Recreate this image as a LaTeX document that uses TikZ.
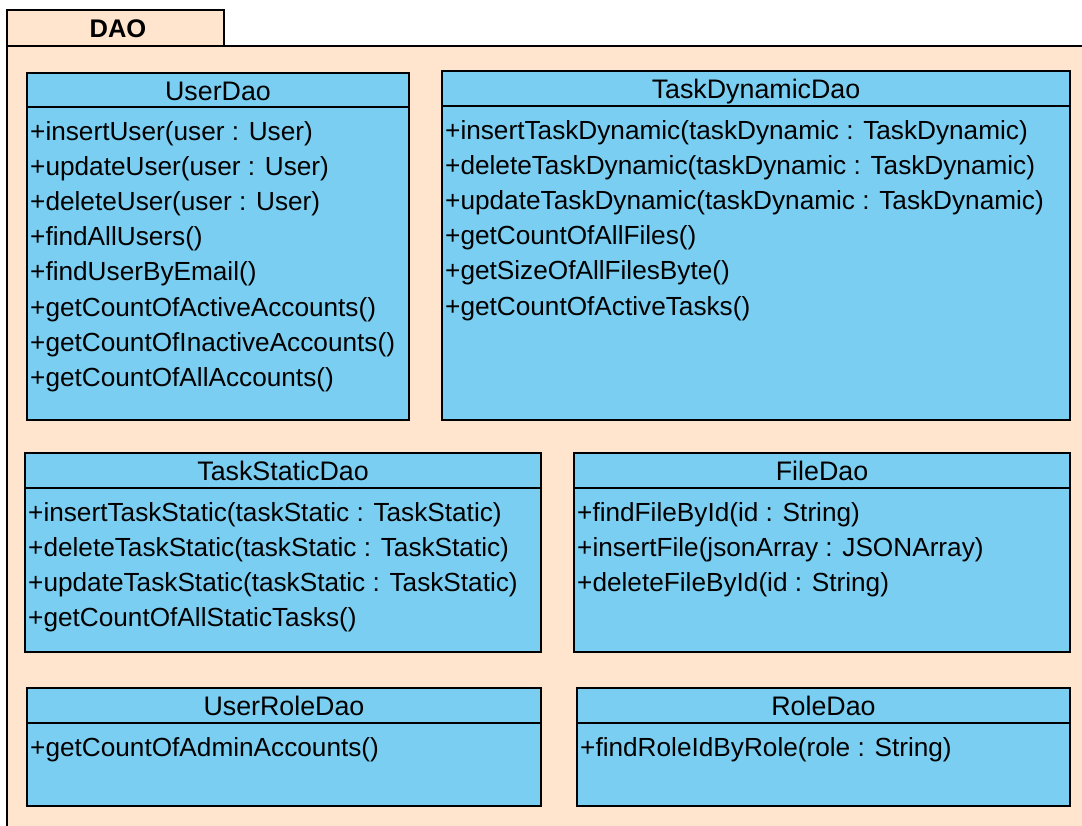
\documentclass[tikz,border=0pt]{standalone}
\usepackage{fontspec}
\setmainfont{Liberation Sans}
\definecolor{pkg}{RGB}{255,229,206}
\definecolor{cls}{RGB}{122,206,242}
\tikzset{
  classbox/.style={draw=black, fill=cls, rectangle, inner sep=0pt, line width=2pt},
  pkgbox/.style={draw=black, fill=pkg, rectangle, inner sep=0pt, line width=2pt},
  member/.style={anchor=base west, inner sep=0pt, font=\fontsize{26.2}{30}\selectfont},
  ctitle/.style={anchor=base, inner sep=0pt, font=\fontsize{26.8}{30}\selectfont},
  ptitle/.style={anchor=base, inner sep=0pt, font=\fontsize{25.5}{30}\selectfont\bfseries},
}
\newcommand{\umlclass}[8]{%
  \node[classbox, minimum width={#4-#2}, minimum height={#5-#3}] (#1) at ({(#2+#4)/2},{(#3+#5)/2}) {};
  \draw[line width=2pt] (#1.west |- 0,#6) -- (#1.east |- 0,#6);
  \node[ctitle] (#1-title) at ({(#2+#4)/2},{(#3+#6)/2+10}) {#7};
  \foreach \m [count=\i] in {#8}
    \node[member] (#1-m\i) at ({#2+3},{#6+33+35.2*(\i-1)}) {\m};
}
\begin{document}
\begin{tikzpicture}[x=1pt,y=-1pt]
\useasboundingbox (0,0) rectangle (1082,825);
\clip (0,0) rectangle (1082,825);
\fill[white] (0,0) rectangle (1082,825);
% package
\node[pkgbox, minimum width=1100, minimum height=800] (pkgbody) at ({7+550},{46+400}) {};
\node[pkgbox, minimum width=217, minimum height=36] (pkgtab) at ({7+108.5},{10+18}) {};
\node[ptitle] (pkgname) at (118,37) {DAO};
% classes
\umlclass{userdao}{27}{73}{409}{420}{107}{UserDao}{+insertUser(user : User),+updateUser(user : User),+deleteUser(user : User),+findAllUsers(),+findUserByEmail(),+getCountOfActiveAccounts(),+getCountOfInactiveAccounts(),+getCountOfAllAccounts()}
\umlclass{taskdyn}{442}{71}{1070}{420}{106}{TaskDynamicDao}{+insertTaskDynamic(taskDynamic : TaskDynamic),+deleteTaskDynamic(taskDynamic : TaskDynamic),+updateTaskDynamic(taskDynamic : TaskDynamic),+getCountOfAllFiles(),+getSizeOfAllFilesByte(),+getCountOfActiveTasks()}
\umlclass{taskstatic}{25}{453}{541}{652}{488}{TaskStaticDao}{+insertTaskStatic(taskStatic : TaskStatic),+deleteTaskStatic(taskStatic : TaskStatic),+updateTaskStatic(taskStatic : TaskStatic),+getCountOfAllStaticTasks()}
\umlclass{filedao}{574}{453}{1070}{652}{488}{FileDao}{+findFileById(id : String),+insertFile(jsonArray : JSONArray),+deleteFileById(id : String)}
\umlclass{userrole}{27}{688}{541}{806}{723}{UserRoleDao}{+getCountOfAdminAccounts()}
\umlclass{roledao}{577}{688}{1070}{806}{723}{RoleDao}{+findRoleIdByRole(role : String)}
\end{tikzpicture}
\end{document}
